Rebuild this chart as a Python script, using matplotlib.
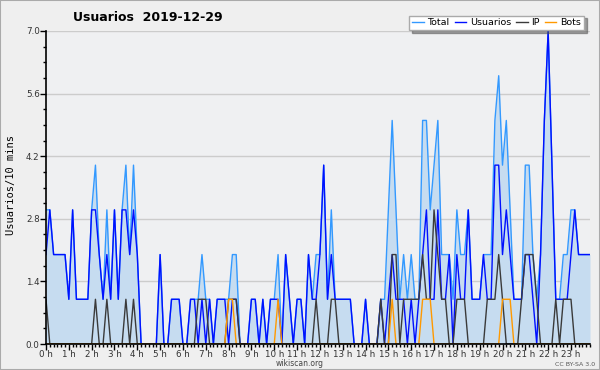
import matplotlib.pyplot as plt
import numpy as np
from matplotlib.patches import Rectangle

# 10-minute samples, 2019-12-29 (6 per hour, 24 hours)
hour_labels = [str(h) + " h" for h in range(24)]

total = [
    3, 3, 2, 2, 2, 2,   # 0h
    1, 3, 1, 1, 1, 1,   # 1h
    3, 4, 2, 1, 3, 1,   # 2h
    3, 1, 3, 4, 2, 4,   # 3h
    2, 0, 0, 0, 0, 0,   # 4h
    2, 0, 0, 1, 1, 1,   # 5h
    0, 0, 1, 1, 1, 2,   # 6h
    1, 1, 0, 1, 1, 1,   # 7h
    1, 2, 2, 0, 0, 0,   # 8h
    1, 1, 0, 1, 0, 1,   # 9h
    1, 2, 0, 2, 1, 0,   # 10h
    1, 1, 0, 2, 1, 2,   # 11h
    2, 4, 1, 3, 1, 1,   # 12h
    1, 1, 1, 0, 0, 0,   # 13h
    1, 0, 0, 0, 1, 1,   # 14h
    3, 5, 3, 1, 2, 1,   # 15h
    2, 1, 1, 5, 5, 3,   # 16h
    4, 5, 2, 2, 2, 1,   # 17h
    3, 2, 2, 3, 1, 1,   # 18h
    1, 2, 2, 2, 5, 6,   # 19h
    4, 5, 3, 1, 1, 1,   # 20h
    4, 4, 2, 1, 2, 5,   # 21h
    7, 4, 1, 1, 2, 2,   # 22h
    3, 3, 2, 2, 2, 2,   # 23h
]

usuarios = [
    2, 3, 2, 2, 2, 2,
    1, 3, 1, 1, 1, 1,
    3, 3, 2, 1, 2, 1,
    3, 1, 3, 3, 2, 3,
    2, 0, 0, 0, 0, 0,
    2, 0, 0, 1, 1, 1,
    0, 0, 1, 1, 0, 1,
    0, 1, 0, 1, 1, 1,
    0, 1, 1, 0, 0, 0,
    1, 1, 0, 1, 0, 1,
    1, 1, 0, 2, 1, 0,
    1, 1, 0, 2, 1, 1,
    2, 4, 1, 2, 1, 1,
    1, 1, 1, 0, 0, 0,
    1, 0, 0, 0, 1, 0,
    1, 2, 1, 1, 1, 0,
    1, 0, 1, 2, 3, 1,
    1, 3, 1, 1, 2, 0,
    2, 1, 1, 3, 1, 1,
    1, 2, 1, 1, 4, 4,
    2, 3, 2, 1, 1, 1,
    2, 2, 1, 0, 2, 5,
    7, 4, 1, 1, 1, 1,
    2, 3, 2, 2, 2, 2,
]

ip = [
    1, 0, 0, 0, 0, 0,
    0, 0, 0, 0, 0, 0,
    0, 1, 0, 0, 1, 0,
    0, 0, 0, 1, 0, 1,
    0, 0, 0, 0, 0, 0,
    0, 0, 0, 0, 0, 0,
    0, 0, 0, 0, 1, 1,
    1, 0, 0, 0, 0, 0,
    1, 1, 1, 0, 0, 0,
    0, 0, 0, 0, 0, 0,
    0, 0, 0, 0, 0, 0,
    0, 0, 0, 0, 0, 1,
    0, 0, 0, 1, 1, 0,
    0, 0, 0, 0, 0, 0,
    0, 0, 0, 0, 1, 0,
    0, 2, 2, 0, 1, 1,
    1, 1, 1, 2, 1, 1,
    3, 2, 1, 1, 0, 0,
    1, 1, 1, 0, 0, 0,
    0, 0, 1, 1, 1, 2,
    1, 0, 0, 0, 0, 1,
    2, 2, 2, 1, 0, 0,
    0, 0, 1, 0, 1, 1,
    1, 0, 0, 0, 0, 0,
]

bots = [0] * 144
for i in [48, 49, 61, 91, 99, 100, 101, 120, 121, 122]:
    bots[i] = 1

bg = '#efefef'
fig = plt.figure(figsize=(6, 3.7), dpi=100, facecolor=bg)
ax = fig.add_axes([46/600, 26/370, 544/600, 313/370], facecolor='#eff0f2')

x = np.arange(len(total))
ax.fill_between(x, total, color='#c6dcf0', lw=0, zorder=1)
ax.plot(x, total, color='#3399ff', lw=1, label='Total', zorder=2)
ax.plot(x, usuarios, color='#0010ff', lw=1, label='Usuarios', zorder=3)
ax.plot(x, ip, color='#3a3a3a', lw=1, label='IP', zorder=4)
ax.plot(x, bots, color='#ff9900', lw=1, label='Bots', zorder=4)

ax.set_xlim(0, 143)
ax.set_ylim(0, 7)
ax.set_xticks(range(0, 144, 6))
ax.set_xticklabels(hour_labels)
ax.set_xticks(range(144), minor=True)
yt = [0, 1.4, 2.8, 4.2, 5.6, 7.0]
ax.set_yticks(yt)
ax.set_yticklabels(['%.1f' % v for v in yt])
ax.set_yticks(np.arange(0, 7.01, 0.35), minor=True)
ax.grid(axis='y', color='#cccccc', lw=1)
ax.set_axisbelow(True)
for s in ['top', 'right']:
    ax.spines[s].set_visible(False)
for s in ['left', 'bottom']:
    ax.spines[s].set_zorder(6)
    ax.spines[s].set_linewidth(1.2)
ax.tick_params(which='major', length=4, width=1, labelsize=6.3, pad=0.5, colors='black')
ax.tick_params(which='minor', length=2.5, width=1)
for t in ax.get_xticklabels() + ax.get_yticklabels():
    t.set_color('#333333')

fig.text(0.018, 0.5, 'Usuarios/10 mins', rotation=90, family='DejaVu Sans Mono',
         size=7.5, va='center', ha='center')
fig.text(0.246, 0.954, 'Usuarios  2019-12-29', weight='bold', size=9,
         ha='center', va='center')
fig.text(0.5, 1 - 364/370, 'wikiscan.org', ha='center', va='center', size=5.5, color='#444444')
fig.text(0.958, 1 - 364/370, 'CC BY-SA 3.0', ha='center', va='center', size=4.5, color='#555555')

leg = fig.legend(loc='upper right', bbox_to_anchor=(0.973, 0.958), ncol=4, fontsize=6.8,
                 frameon=True, fancybox=False, shadow=True, handlelength=1.2,
                 handletextpad=0.4, columnspacing=0.55, borderpad=0.3, borderaxespad=0)
leg.get_frame().set_edgecolor('#aaaaaa')
leg.get_frame().set_facecolor('white')

fig.patches.append(Rectangle((0, 0), 1, 1, transform=fig.transFigure, fill=False,
                             edgecolor='#aaaaaa', lw=1.5))

fig.savefig('out.png', dpi=100, facecolor=bg)
